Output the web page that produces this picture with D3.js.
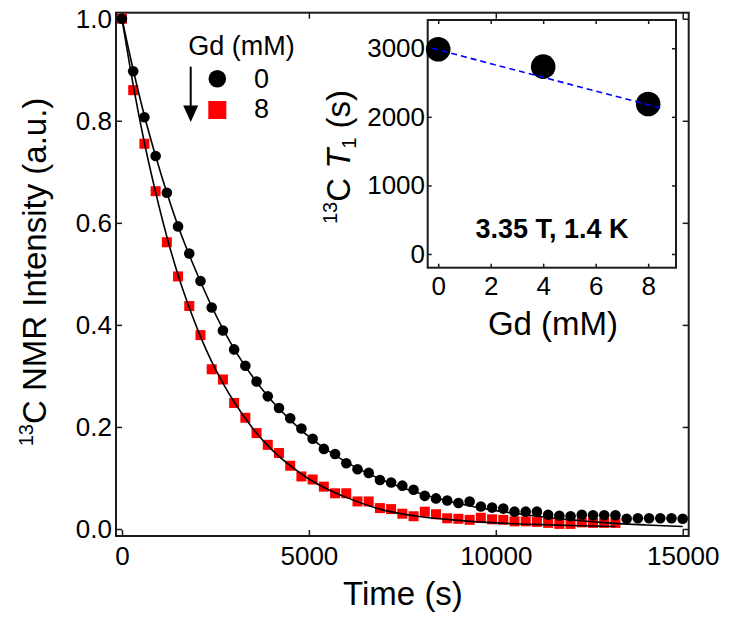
<!DOCTYPE html>
<html>
<head>
<meta charset="utf-8">
<script src="https://cdn.jsdelivr.net/npm/d3@7"></script>
<style>
  body { margin: 0; background: #fff; }
  svg { display: block; font-family: "Liberation Sans", Arial, sans-serif; }
</style>
</head>
<body>
<div id="chart"></div>
<script>
// Main panel: 13C NMR intensity decay, 0 mM Gd (circles) and 8 mM Gd (squares)
const gd0Times = [0, 300, 600, 900, 1200, 1500, 1800, 2100, 2400, 2700, 3000, 3300, 3600, 3900,
  4200, 4500, 4800, 5100, 5400, 5700, 6000, 6300, 6600, 6900, 7200, 7500, 7800, 8100, 8400, 8700,
  9000, 9300, 9600, 9900, 10200, 10500, 10800, 11100, 11400, 11700, 12000, 12300, 12600, 12900,
  13200, 13500, 13800, 14100, 14400, 14700, 15000];
const gd0Values = [1.000, 0.897, 0.807, 0.731, 0.659, 0.593, 0.540, 0.486, 0.434, 0.389, 0.352,
  0.320, 0.289, 0.260, 0.237, 0.217, 0.197, 0.177, 0.157, 0.147, 0.129, 0.117, 0.110, 0.096,
  0.091, 0.085, 0.077, 0.065, 0.060, 0.056, 0.051, 0.054, 0.044, 0.042, 0.040, 0.034, 0.034,
  0.034, 0.028, 0.026, 0.025, 0.028, 0.027, 0.027, 0.027, 0.020, 0.021, 0.021, 0.021, 0.021, 0.020];

const gd8Times = [0, 300, 600, 900, 1200, 1500, 1800, 2100, 2400, 2700, 3000, 3300, 3600, 3900,
  4200, 4500, 4800, 5100, 5400, 5700, 6000, 6300, 6600, 6900, 7200, 7500, 7800, 8100, 8400, 8700,
  9000, 9300, 9600, 9900, 10200, 10500, 10800, 11100, 11400, 11700, 12000, 12300, 12600, 12900, 13200];
const gd8Values = [1.000, 0.860, 0.755, 0.662, 0.562, 0.495, 0.437, 0.380, 0.313, 0.293, 0.247,
  0.218, 0.188, 0.165, 0.149, 0.124, 0.103, 0.097, 0.083, 0.070, 0.070, 0.054, 0.054, 0.041,
  0.039, 0.030, 0.025, 0.034, 0.029, 0.021, 0.020, 0.018, 0.022, 0.019, 0.018, 0.015, 0.015,
  0.014, 0.012, 0.010, 0.010, 0.013, 0.012, 0.012, 0.012];

// Fitted curves
const fit0Times = [0, 300, 600, 900, 1200, 1500, 1800, 2100, 2400, 2700, 3000, 3500, 4000, 4500,
  5000, 5500, 6000, 7000, 8000, 9000, 10000, 11000, 12000, 13000, 14000, 15000];
const fit0Values = [1.0, 0.90, 0.81, 0.731, 0.659, 0.594, 0.537, 0.485, 0.436, 0.392, 0.353,
  0.298, 0.252, 0.214, 0.181, 0.154, 0.131, 0.095, 0.069, 0.050, 0.036, 0.026, 0.018, 0.012, 0.008, 0.005];
const fit8Times = [0, 300, 600, 900, 1200, 1500, 1800, 2100, 2400, 2700, 3000, 3500, 4000, 4500,
  5000, 5500, 6000, 7000, 8000, 9000, 10000, 11000, 12000, 13200];
const fit8Values = [1.0, 0.87, 0.757, 0.66, 0.573, 0.498, 0.434, 0.377, 0.328, 0.286, 0.249,
  0.197, 0.156, 0.124, 0.098, 0.078, 0.062, 0.037, 0.024, 0.017, 0.012, 0.009, 0.007, 0.005];

const mainXTicks = [0, 5000, 10000, 15000];
const mainYTicks = [0, 0.2, 0.4, 0.6, 0.8, 1.0];
const legendLabels = ['0', '8'];

// Inset: T1 vs Gd concentration
const insetGd = [0, 4, 8];
const insetT1 = [2985, 2732, 2188];
const insetFitGd = [-0.24, 8.5];
const insetFitT1 = [3000, 2126];
const insetXTicks = [0, 2, 4, 6, 8];
const insetYTicks = [0, 1000, 2000, 3000];

const width = 729, height = 624;
const svg = d3.select('#chart').append('svg')
  .attr('width', width)
  .attr('height', height);

const frameColor = '#1a1a1a';
const titleSize = 33;

function styleAxis(g, fontSize) {
  g.select('.domain').remove();
  g.selectAll('.tick line').attr('stroke', frameColor).attr('stroke-width', 1.5);
  g.selectAll('.tick text').attr('fill', '#000').style('font-size', fontSize + 'px');
}

// ---------- main panel ----------
const main = { left: 116, right: 688.7, top: 12.7, bottom: 536 };
const x = d3.scaleLinear().domain([-160, 15160]).range([main.left, main.right]);
const y = d3.scaleLinear().domain([-0.0137, 1.0118]).range([main.bottom, main.top]);

svg.append('g')
  .attr('transform', `translate(0,${main.bottom})`)
  .call(d3.axisBottom(x).tickValues(mainXTicks).tickSize(-6).tickFormat(d3.format('d')))
  .call(g => styleAxis(g, 26))
  .call(g => g.selectAll('.tick text').attr('dy', null).attr('y', 29));

svg.append('g')
  .attr('transform', `translate(0,${main.top})`)
  .call(d3.axisTop(x).tickValues(mainXTicks).tickSize(-6).tickFormat(''))
  .call(g => styleAxis(g, 26));

svg.append('g')
  .attr('transform', `translate(${main.left},0)`)
  .call(d3.axisLeft(y).tickValues(mainYTicks).tickSize(-6).tickPadding(4).tickFormat(d3.format('.1f')))
  .call(g => styleAxis(g, 26));

svg.append('g')
  .attr('transform', `translate(${main.right},0)`)
  .call(d3.axisRight(y).tickValues(mainYTicks).tickSize(-6).tickFormat(''))
  .call(g => styleAxis(g, 26));

svg.append('rect')
  .attr('x', main.left).attr('y', main.top)
  .attr('width', main.right - main.left).attr('height', main.bottom - main.top)
  .attr('fill', 'none').attr('stroke', frameColor).attr('stroke-width', 2);

const gd8 = gd8Times.map((t, i) => ({ t, v: gd8Values[i] }));
const gd0 = gd0Times.map((t, i) => ({ t, v: gd0Values[i] }));

const sq = 10;
svg.append('g').selectAll('rect')
  .data(gd8)
  .join('rect')
  .attr('x', d => x(d.t) - sq / 2)
  .attr('y', d => y(d.v) - sq / 2)
  .attr('width', sq).attr('height', sq)
  .attr('fill', '#ff0000');

svg.append('g').selectAll('circle')
  .data(gd0)
  .join('circle')
  .attr('cx', d => x(d.t))
  .attr('cy', d => y(d.v))
  .attr('r', 5.3)
  .attr('fill', '#000');

const fitLine = d3.line().x(d => x(d.t)).y(d => y(d.v)).curve(d3.curveMonotoneX);
[[fit0Times, fit0Values], [fit8Times, fit8Values]].forEach(([ts, vs]) => {
  svg.append('path')
    .datum(ts.map((t, i) => ({ t, v: vs[i] })))
    .attr('d', fitLine)
    .attr('fill', 'none')
    .attr('stroke', '#000')
    .attr('stroke-width', 1.6);
});

// axis titles
svg.append('text')
  .attr('x', 403).attr('y', 605)
  .attr('text-anchor', 'middle')
  .style('font-size', titleSize + 'px')
  .text('Time (s)');

const yTitle = svg.append('text')
  .attr('transform', 'translate(46,272) rotate(-90)')
  .attr('text-anchor', 'middle')
  .style('font-size', titleSize + 'px');
yTitle.append('tspan').style('font-size', '20px').attr('dy', '-13').text('13');
yTitle.append('tspan').attr('dy', '13').text('C NMR Intensity (a.u.)');

// legend
svg.append('text')
  .attr('x', 241.5).attr('y', 55)
  .attr('text-anchor', 'middle')
  .style('font-size', '27px')
  .text('Gd (mM)');

svg.append('circle').attr('cx', 217.3).attr('cy', 78.7).attr('r', 8.8).attr('fill', '#000');
svg.append('rect').attr('x', 217.3 - 9).attr('y', 110 - 9).attr('width', 18).attr('height', 18).attr('fill', '#ff0000');
svg.selectAll('.legend-label')
  .data(legendLabels)
  .join('text')
  .attr('class', 'legend-label')
  .attr('x', 261.5)
  .attr('y', (d, i) => 88 + i * 30)
  .attr('text-anchor', 'middle')
  .style('font-size', '27px')
  .text(d => d);

svg.append('line')
  .attr('x1', 190.7).attr('x2', 190.7)
  .attr('y1', 66.7).attr('y2', 110)
  .attr('stroke', '#000').attr('stroke-width', 2);
svg.append('path')
  .attr('d', 'M183.2,105.5 L198.2,105.5 L190.7,122 Z')
  .attr('fill', '#000');

// ---------- inset ----------
const inset = { left: 427.7, right: 676, top: 20, bottom: 267.7 };
const ix = d3.scaleLinear().domain([-0.4, 9.06]).range([inset.left, inset.right]);
const iy = d3.scaleLinear().domain([-200, 3412]).range([inset.bottom, inset.top]);

svg.append('rect')
  .attr('x', inset.left).attr('y', inset.top)
  .attr('width', inset.right - inset.left).attr('height', inset.bottom - inset.top)
  .attr('fill', '#fff');

svg.append('g')
  .attr('transform', `translate(0,${inset.bottom})`)
  .call(d3.axisBottom(ix).tickValues(insetXTicks).tickSize(-4).tickFormat(d3.format('d')))
  .call(g => styleAxis(g, 26))
  .call(g => g.selectAll('.tick text').attr('dy', null).attr('y', 27.5));

svg.append('g')
  .attr('transform', `translate(0,${inset.top})`)
  .call(d3.axisTop(ix).tickValues(insetXTicks).tickSize(-4).tickFormat(''))
  .call(g => styleAxis(g, 26));

svg.append('g')
  .attr('transform', `translate(${inset.left},0)`)
  .call(d3.axisLeft(iy).tickValues(insetYTicks).tickSize(-4).tickPadding(2.7).tickFormat(d3.format('d')))
  .call(g => styleAxis(g, 26));

svg.append('g')
  .attr('transform', `translate(${inset.right},0)`)
  .call(d3.axisRight(iy).tickValues(insetYTicks).tickSize(-4).tickFormat(''))
  .call(g => styleAxis(g, 26));

svg.append('rect')
  .attr('x', inset.left).attr('y', inset.top)
  .attr('width', inset.right - inset.left).attr('height', inset.bottom - inset.top)
  .attr('fill', 'none').attr('stroke', frameColor).attr('stroke-width', 2);

svg.append('g').selectAll('circle')
  .data(insetGd.map((g, i) => ({ g, t1: insetT1[i] })))
  .join('circle')
  .attr('cx', d => ix(d.g))
  .attr('cy', d => iy(d.t1))
  .attr('r', 12.3)
  .attr('fill', '#000');

svg.append('path')
  .datum(insetFitGd.map((g, i) => ({ g, t1: insetFitT1[i] })))
  .attr('d', d3.line().x(d => ix(d.g)).y(d => iy(d.t1)))
  .attr('fill', 'none')
  .attr('stroke', '#0000ff')
  .attr('stroke-width', 1.6)
  .attr('stroke-dasharray', '6,4');

svg.append('text')
  .attr('x', 552).attr('y', 238)
  .attr('text-anchor', 'middle')
  .style('font-size', '27px')
  .style('font-weight', 'bold')
  .text('3.35 T, 1.4 K');

svg.append('text')
  .attr('x', 553).attr('y', 335)
  .attr('text-anchor', 'middle')
  .style('font-size', titleSize + 'px')
  .text('Gd (mM)');

const iyTitle = svg.append('text')
  .attr('transform', 'translate(350,157) rotate(-90)')
  .attr('text-anchor', 'middle')
  .style('font-size', titleSize + 'px');
iyTitle.append('tspan').style('font-size', '20px').attr('dy', '-13').text('13');
iyTitle.append('tspan').attr('dy', '13').text('C ');
iyTitle.append('tspan').style('font-style', 'italic').text('T');
iyTitle.append('tspan').style('font-size', '20px').attr('dy', '6').text('1');
iyTitle.append('tspan').attr('dy', '-6').text(' (s)');
</script>
</body>
</html>
